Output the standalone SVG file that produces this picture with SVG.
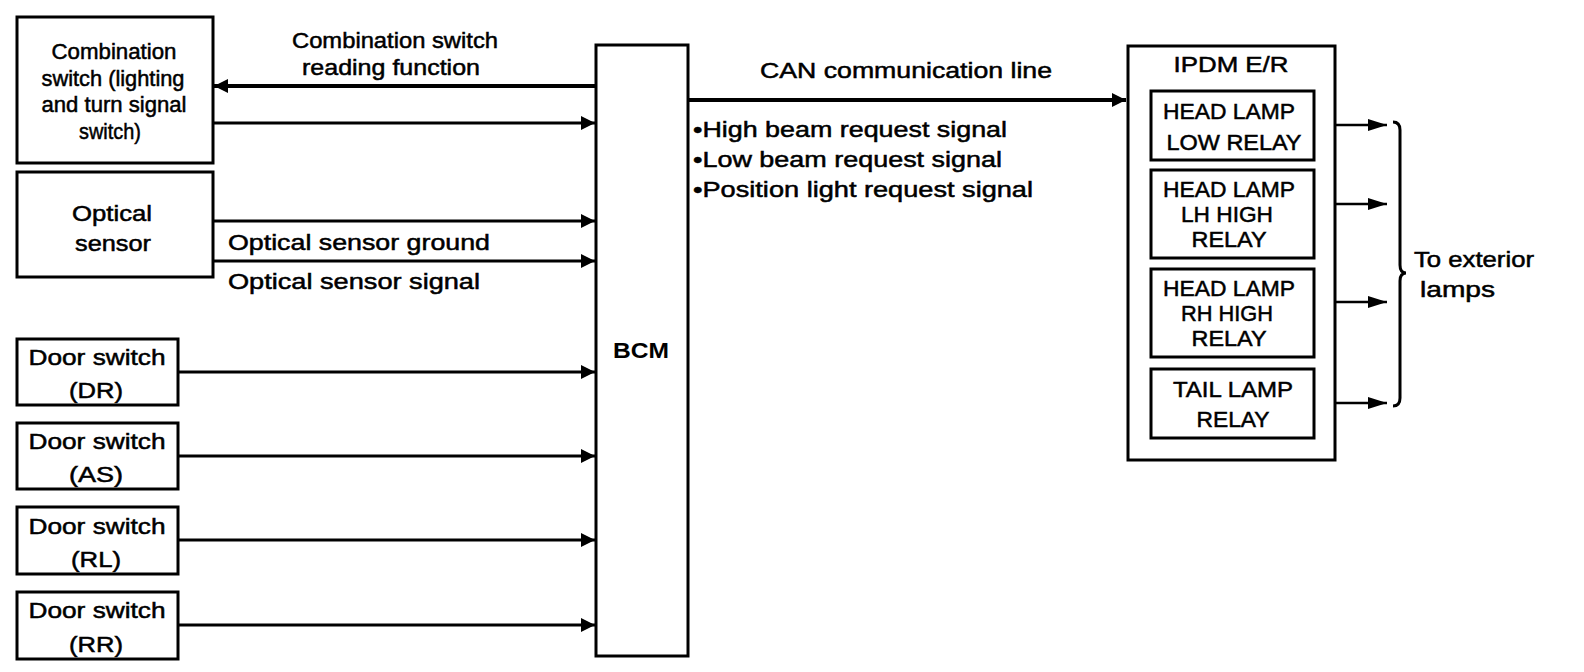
<svg xmlns="http://www.w3.org/2000/svg" width="1584" height="672" viewBox="0 0 1584 672">
<style>
text{font-family:"Liberation Sans",Arial,sans-serif;font-size:22px;fill:#000;stroke:#000;stroke-width:0.5}
.c{text-anchor:middle}
.b{font-weight:bold;stroke-width:0}
.box{fill:#fff;stroke:#000;stroke-width:3}
.ln{stroke:#000;stroke-width:3;fill:none}
.thk{stroke-width:4}
.thin{stroke-width:2.5}
</style>
<defs>
<marker id="ah" markerUnits="userSpaceOnUse" viewBox="0 0 14 14" refX="14" refY="7" markerWidth="14" markerHeight="14" orient="auto">
<path d="M0,0 L14,7 L0,14 z" fill="#000"/>
</marker>
<marker id="ahs" markerUnits="userSpaceOnUse" viewBox="0 0 19 12" refX="19" refY="6" markerWidth="19" markerHeight="12" orient="auto">
<path d="M0,0 L19,6 L0,12 z" fill="#000"/>
</marker>
</defs>
<rect width="1584" height="672" fill="#fff"/>

<g id="connectors">
<line class="ln thk" x1="596" y1="86" x2="214" y2="86" marker-end="url(#ah)"/>
<line class="ln" x1="213" y1="123" x2="595" y2="123" marker-end="url(#ah)"/>
<line class="ln" x1="213" y1="221" x2="595" y2="221" marker-end="url(#ah)"/>
<line class="ln" x1="213" y1="261" x2="595" y2="261" marker-end="url(#ah)"/>
<line class="ln" x1="178" y1="372" x2="595" y2="372" marker-end="url(#ah)"/>
<line class="ln" x1="178" y1="456" x2="595" y2="456" marker-end="url(#ah)"/>
<line class="ln" x1="178" y1="540" x2="595" y2="540" marker-end="url(#ah)"/>
<line class="ln" x1="178" y1="625" x2="595" y2="625" marker-end="url(#ah)"/>
<line class="ln thk" x1="688" y1="100" x2="1126" y2="100" marker-end="url(#ah)"/>
<line class="ln thin" x1="1314" y1="125" x2="1387" y2="125" marker-end="url(#ahs)"/>
<line class="ln thin" x1="1314" y1="204" x2="1387" y2="204" marker-end="url(#ahs)"/>
<line class="ln thin" x1="1314" y1="302" x2="1387" y2="302" marker-end="url(#ahs)"/>
<line class="ln thin" x1="1314" y1="403" x2="1387" y2="403" marker-end="url(#ahs)"/>
<path class="ln" d="M1393,122 Q1400,122 1400,130 L1400,265 Q1400,273 1406,273 Q1400,273 1400,281 L1400,398 Q1400,406 1393,406"/>
<text x="395" y="48" class="c" textLength="206" lengthAdjust="spacingAndGlyphs">Combination switch</text>
<text x="391" y="75" class="c" textLength="178" lengthAdjust="spacingAndGlyphs">reading function</text>
<text x="228" y="250" textLength="262" lengthAdjust="spacingAndGlyphs">Optical sensor ground</text>
<text x="228" y="289" textLength="252" lengthAdjust="spacingAndGlyphs">Optical sensor signal</text>
<text x="906" y="78" class="c" textLength="292" lengthAdjust="spacingAndGlyphs">CAN communication line</text>
<text x="693" y="137" textLength="314" lengthAdjust="spacingAndGlyphs">•High beam request signal</text>
<text x="693" y="167" textLength="309" lengthAdjust="spacingAndGlyphs">•Low beam request signal</text>
<text x="693" y="197" textLength="340" lengthAdjust="spacingAndGlyphs">•Position light request signal</text>
<text x="1414" y="267" textLength="120" lengthAdjust="spacingAndGlyphs">To exterior</text>
<text x="1420" y="297" textLength="75" lengthAdjust="spacingAndGlyphs">lamps</text>
</g>

<g id="comb">
<rect class="box" x="17" y="17" width="196" height="146"/>
<text x="114" y="59" class="c" textLength="125" lengthAdjust="spacingAndGlyphs">Combination</text>
<text x="113" y="86" class="c" textLength="143" lengthAdjust="spacingAndGlyphs">switch (lighting</text>
<text x="114" y="112" class="c" textLength="145" lengthAdjust="spacingAndGlyphs">and turn signal</text>
<text x="110" y="139" class="c" textLength="62" lengthAdjust="spacingAndGlyphs">switch)</text>
</g>

<g id="optical">
<rect class="box" x="17" y="172" width="196" height="105"/>
<text x="112" y="221" class="c" textLength="80" lengthAdjust="spacingAndGlyphs">Optical</text>
<text x="113" y="251" class="c" textLength="76" lengthAdjust="spacingAndGlyphs">sensor</text>
</g>

<g id="door-dr">
<rect class="box" x="17" y="339" width="161" height="66"/>
<text x="97" y="365" class="c" textLength="137" lengthAdjust="spacingAndGlyphs">Door switch</text>
<text x="96" y="398" class="c" textLength="54" lengthAdjust="spacingAndGlyphs">(DR)</text>
</g>
<g id="door-as">
<rect class="box" x="17" y="423" width="161" height="66"/>
<text x="97" y="449" class="c" textLength="137" lengthAdjust="spacingAndGlyphs">Door switch</text>
<text x="96" y="482" class="c" textLength="54" lengthAdjust="spacingAndGlyphs">(AS)</text>
</g>
<g id="door-rl">
<rect class="box" x="17" y="507" width="161" height="67"/>
<text x="97" y="534" class="c" textLength="137" lengthAdjust="spacingAndGlyphs">Door switch</text>
<text x="96" y="567" class="c" textLength="50" lengthAdjust="spacingAndGlyphs">(RL)</text>
</g>
<g id="door-rr">
<rect class="box" x="17" y="592" width="161" height="67"/>
<text x="97" y="618" class="c" textLength="137" lengthAdjust="spacingAndGlyphs">Door switch</text>
<text x="96" y="652" class="c" textLength="54" lengthAdjust="spacingAndGlyphs">(RR)</text>
</g>

<g id="bcm">
<rect class="box" x="596" y="45" width="92" height="611"/>
<text x="641" y="358" class="c b" textLength="56" lengthAdjust="spacingAndGlyphs">BCM</text>
</g>

<g id="ipdm">
<rect class="box" x="1128" y="46" width="207" height="414"/>
<text x="1231" y="72" class="c" textLength="115" lengthAdjust="spacingAndGlyphs">IPDM E/R</text>
</g>
<g id="relay-low">
<rect class="box" x="1151" y="91" width="163" height="69"/>
<text x="1229" y="119" class="c" textLength="132" lengthAdjust="spacingAndGlyphs">HEAD LAMP</text>
<text x="1234" y="150" class="c" textLength="135" lengthAdjust="spacingAndGlyphs">LOW RELAY</text>
</g>
<g id="relay-lh">
<rect class="box" x="1151" y="170" width="163" height="88"/>
<text x="1229" y="197" class="c" textLength="132" lengthAdjust="spacingAndGlyphs">HEAD LAMP</text>
<text x="1227" y="222" class="c" textLength="92" lengthAdjust="spacingAndGlyphs">LH HIGH</text>
<text x="1229" y="247" class="c" textLength="75" lengthAdjust="spacingAndGlyphs">RELAY</text>
</g>
<g id="relay-rh">
<rect class="box" x="1151" y="269" width="163" height="88"/>
<text x="1229" y="296" class="c" textLength="132" lengthAdjust="spacingAndGlyphs">HEAD LAMP</text>
<text x="1227" y="321" class="c" textLength="92" lengthAdjust="spacingAndGlyphs">RH HIGH</text>
<text x="1229" y="346" class="c" textLength="75" lengthAdjust="spacingAndGlyphs">RELAY</text>
</g>
<g id="relay-tail">
<rect class="box" x="1151" y="369" width="163" height="69"/>
<text x="1233" y="397" class="c" textLength="120" lengthAdjust="spacingAndGlyphs">TAIL LAMP</text>
<text x="1233" y="427" class="c" textLength="73" lengthAdjust="spacingAndGlyphs">RELAY</text>
</g>
</svg>
